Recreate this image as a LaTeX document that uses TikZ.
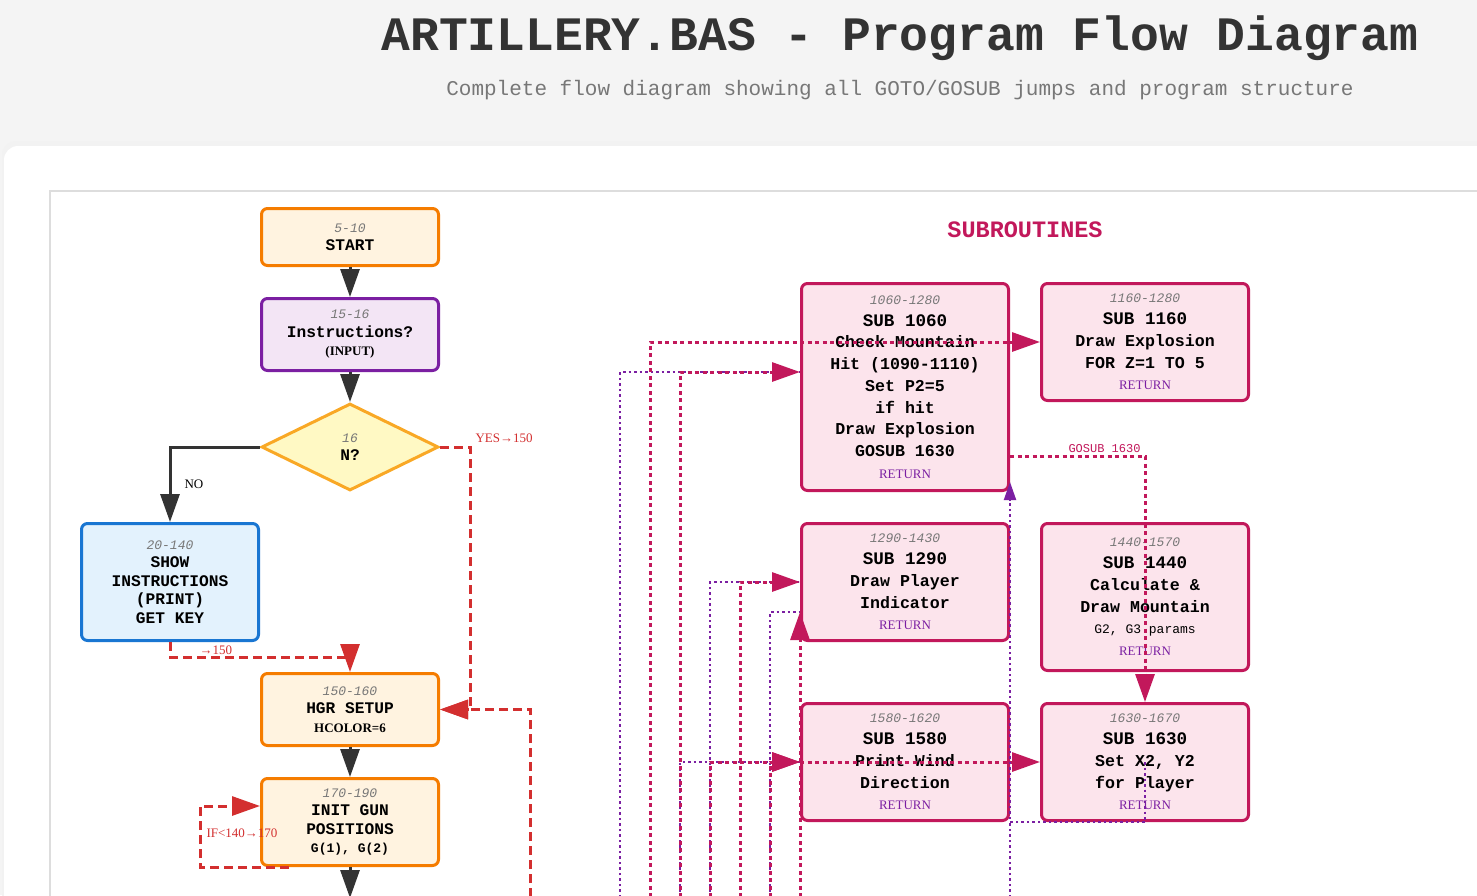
\documentclass[tikz,border=0pt]{standalone}
\usepackage{fontspec}
\usepackage{xcolor}
\usepackage{tikz}
\usetikzlibrary{arrows.meta, positioning, calc, shapes.geometric}
\newfontfamily\codefont{Liberation Mono}
\newfontfamily\notefont{Liberation Serif}
\definecolor{ink}{HTML}{333333}
\definecolor{startorange}{HTML}{F57C00}
\definecolor{startfill}{HTML}{FFF3E0}
\definecolor{inputpurple}{HTML}{7B1FA2}
\definecolor{inputfill}{HTML}{F3E5F5}
\definecolor{decyellow}{HTML}{F9A825}
\definecolor{decfill}{HTML}{FFF9C4}
\definecolor{printblue}{HTML}{1976D2}
\definecolor{printfill}{HTML}{E3F2FD}
\definecolor{subcrimson}{HTML}{C2185B}
\definecolor{subfill}{HTML}{FCE4EC}
\definecolor{jumpred}{HTML}{D32F2F}
\definecolor{pagegray}{HTML}{F4F4F4}
\definecolor{framegray}{HTML}{DDDDDD}
\definecolor{numgray}{HTML}{777777}
\newcommand{\boxfont}{\codefont\bfseries\fontsize{16.2}{18.5}\selectfont}
\newcommand{\subfont}{\codefont\bfseries\fontsize{16.6}{21.75}\selectfont}
\newcommand{\lnum}[1]{{\fontsize{13}{15}\selectfont\mdseries\itshape\color{numgray}#1}}
\newcommand{\subname}[1]{{\fontsize{17.6}{20}\selectfont #1}}
\newcommand{\smallnote}[1]{{\notefont\fontsize{13}{15}\selectfont #1}}
\newcommand{\smallcode}[1]{{\fontsize{13}{15}\selectfont #1}}
\newcommand{\rettag}{{\notefont\fontsize{13}{15}\selectfont\mdseries\color{inputpurple}RETURN}}

\begin{document}
\begin{tikzpicture}[x=1pt, y=-1pt,
  box/.style={draw, rounded corners=6pt, line width=3pt, align=center, inner sep=2pt},
  orangefill/.style={box, draw=startorange, fill=startfill, minimum width=177pt, font=\boxfont},
  purplefill/.style={box, draw=inputpurple, fill=inputfill, minimum width=177pt, font=\boxfont},
  bluefill/.style={box, draw=printblue, fill=printfill, minimum width=177pt, font=\boxfont},
  subbox/.style={box, draw=subcrimson, fill=subfill, minimum width=207pt, minimum height=117pt, font=\subfont},
  decision/.style={diamond, draw=decyellow, fill=decfill, line width=3pt, minimum width=177pt, minimum height=87pt, inner sep=0pt, align=center, font=\boxfont},
  flow/.style={line width=3pt, draw=ink, -{Triangle[length=28pt, width=19pt]}},
  jump/.style={line width=3pt, draw=jumpred, dash pattern=on 9pt off 5pt, -{Triangle[length=28pt, width=19pt]}},
  call/.style={line width=3pt, draw=subcrimson, dash pattern=on 4pt off 3.5pt, -{Triangle[length=28pt, width=19pt]}},
  back/.style={line width=2pt, draw=inputpurple, dash pattern=on 2.5pt off 3pt},
  jumplabel/.style={font=\notefont\fontsize{13}{15}\selectfont, text=jumpred, inner sep=1pt},
  node distance=30pt
]
\useasboundingbox (0,0) rectangle (1477,895);
\fill[pagegray] (0,0) rectangle (1477,895);
\fill[black!5, rounded corners=14pt] (2,141) rectangle (1510,930);
\fill[white, rounded corners=14pt] (4,146) rectangle (1510,930);
\draw[framegray, line width=1.5pt] (50,897) |- (1480,191);

\node[anchor=base, text=ink, font=\codefont\bfseries\fontsize{48}{56}\selectfont] (title) at (900,50) {ARTILLERY.BAS - Program Flow Diagram};
\node[anchor=base, text=numgray, font=\codefont\fontsize{21}{24}\selectfont] (subtitle) at (900,95) {Complete flow diagram showing all GOTO/GOSUB jumps and program structure};
\node[anchor=base, text=subcrimson, font=\codefont\bfseries\fontsize{23.5}{26}\selectfont] (subhead) at (1025,237) {SUBROUTINES};

\node[orangefill, minimum height=57pt] (start) at (350,237) {\lnum{5-10}\\START};
\node[purplefill, minimum height=72pt, below=of start] (instr) {\lnum{15-16}\\Instructions?\\\smallnote{(INPUT)}};
\node[decision, below=of instr] (dec) {\lnum{16}\\N?};
\node[bluefill, minimum height=117pt] (show) at (170,582) {\lnum{20-140}\\SHOW\\INSTRUCTIONS\\(PRINT)\\GET KEY};
\node[orangefill, minimum height=72pt] (hgr) at (350,709.5) {\lnum{150-160}\\HGR SETUP\\\smallnote{HCOLOR=6}};
\node[orangefill, minimum height=87pt, below=of hgr] (init) {\lnum{170-190}\\INIT GUN\\POSITIONS\\\smallcode{G(1), G(2)}};

\node[subbox, minimum height=207pt] (p1060) at (905,387) {\lnum{1060-1280}\\\subname{SUB 1060}\\Check Mountain\\Hit (1090-1110)\\Set P2=5\\if hit\\Draw Explosion\\GOSUB 1630\\\rettag};
\node[subbox] (p1160) at (1145,342) {\lnum{1160-1280}\\\subname{SUB 1160}\\Draw Explosion\\FOR Z=1 TO 5\\\rettag};
\node[subbox, below=of p1060] (p1290) {\lnum{1290-1430}\\\subname{SUB 1290}\\Draw Player\\Indicator\\\rettag};
\node[subbox, below=60pt of p1290] (p1580) {\lnum{1580-1620}\\\subname{SUB 1580}\\Print Wind\\Direction\\\rettag};
\node[subbox, right=of p1580] (p1630) {\lnum{1630-1670}\\\subname{SUB 1630}\\Set X2, Y2\\for Player\\\rettag};
\node[subbox, minimum height=147pt, above=of p1630] (p1440) {\lnum{1440-1570}\\\subname{SUB 1440}\\Calculate \&\\Draw Mountain\\{\mdseries\smallcode{G2, G3 params}}\\\rettag};

\coordinate (floor) at (0,897);
\coordinate (mainout) at (350,898);
\foreach \busx/\busname in {530/yes, 620/ra, 650/ga, 680/gb, 710/rb, 740/gc, 770/rc}
  \coordinate (bus\busname) at (\busx,897);

\draw[flow] (start) -- (instr);
\draw[flow] (instr) -- (dec);
\draw[flow] (dec.west) -| node[pos=0.75, right=12pt, font=\notefont\fontsize{13}{15}\selectfont, text=black, inner sep=1pt] {NO} (show.north);
\draw[jump] (dec.east) -- ++(30,0) node[above right, xshift=3pt, yshift=2pt, jumplabel] {YES→150} |- (hgr.east);
\draw[jump] (busyes) |- (hgr.east);
\draw[jump] (show.south) -- ++(0,15) node[above right, xshift=27pt, jumplabel] {→150} -| (hgr.north);
\draw[flow] (hgr) -- (init);
\draw[flow] (init) -- (mainout);
\draw[jump] ([xshift=-61pt]init.south) -- ([xshift=-150pt]init.south) |- node[pos=0.28, right, xshift=4pt, jumplabel] {IF<140→170} ([yshift=16pt]init.west);

\draw[back] (busra) |- ([yshift=15pt]p1060.west);
\draw[back] (busrb) |- (p1290.west);
\draw[back] (busrc) |- ([yshift=-30pt]p1290.west);
\draw[back] (busgb) |- (p1580.west);
\draw[call] (busga) |- (p1160.west);
\draw[call] (busgb) |- ([yshift=15pt]p1060.west);
\draw[call] (busgc) |- (p1290.west);
\draw[call] (busrb) |- (p1580.west);
\draw[call] (busrc) |- (p1580.west);
\draw[call] (p1290.west |- floor) -- ([yshift=-30pt]p1290.west);
\draw[call] (p1580.west) -- (p1630.west);
\draw[call] ([yshift=-69pt]p1060.east) -| node[pos=0.35, above, inner sep=2pt, text=subcrimson, font=\codefont\fontsize{12}{14}\selectfont] {GOSUB 1630} (p1630.north);
\draw[back, -{Triangle[length=18pt, width=12pt]}] (p1630.center) -- (p1630.south) -| ([yshift=10pt]p1060.south east);
\draw[back] (p1060.south east |- floor) -- (p1060.south east |- p1630.south);
\end{tikzpicture}
\end{document}
